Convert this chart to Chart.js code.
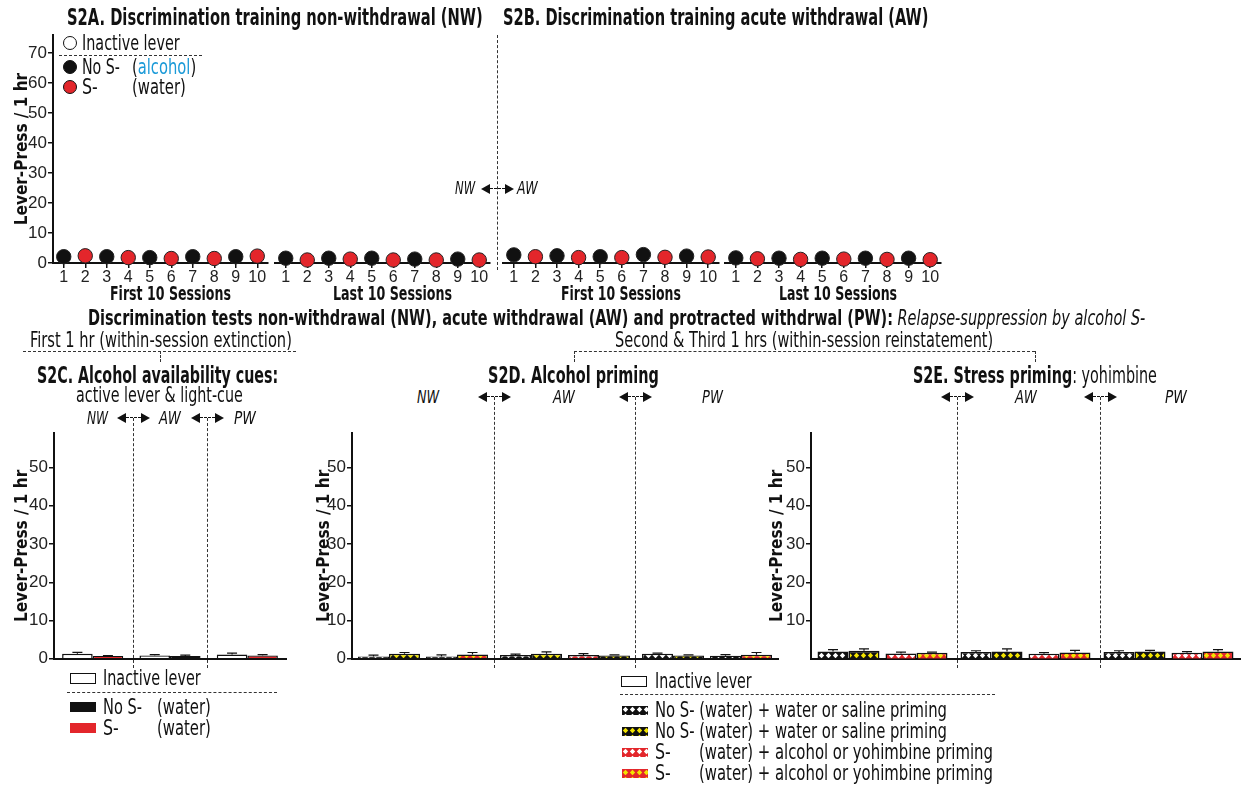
<!DOCTYPE html>
<html>
<head>
<meta charset="utf-8">
<script src="https://cdn.jsdelivr.net/npm/chart.js@4.4.1/dist/chart.umd.min.js"></script>
<style>
  body { margin: 0; background: #fff; width: 1243px; height: 786px; overflow: hidden; position: relative;
         font-family: "Liberation Sans Narrow", "DejaVu Sans Condensed", sans-serif; color: #111; }
  canvas { position: absolute; }
  .t { position: absolute; white-space: nowrap; line-height: 1; transform-origin: left center; transform: translateY(-50%); }
  .b { font-weight: bold; }
  .i { font-style: italic; }
  .hd { position: absolute; height: 0; border-top: 1px dashed #333; }
  .vd { position: absolute; width: 0; border-left: 1px dashed #333; }
  .dot { position: absolute; width: 14px; height: 14px; border-radius: 50%; box-sizing: border-box; border: 1.5px solid #111; }
  .sw { position: absolute; box-sizing: border-box; }
  .arr { position: absolute; width: 33px; height: 10px; }
  .arr .l, .arr .r { position: absolute; top: 0; width: 0; height: 0; border-top: 5px solid transparent; border-bottom: 5px solid transparent; }
  .arr .l { left: 0; border-right: 9px solid #111; }
  .arr .r { right: 0; border-left: 9px solid #111; }
  .arr .d { position: absolute; left: 9px; right: 9px; top: 4px; border-top: 1px dashed #111; }
</style>
</head>
<body>
<script>
// ---- data ----
const sessionLabels = ["1", "2", "3", "4", "5", "6", "7", "8", "9", "10"];
const groupLabels = ["NW", "AW", "PW"];

// S2A non-withdrawal, odd sessions = No S- (alcohol), even = S- (water)
const nwFirstNoS = [2.1, null, 2.1, null, 1.8, null, 2.1, null, 2.1, null];
const nwFirstS   = [null, 2.4, null, 1.8, null, 1.5, null, 1.5, null, 2.3];
const nwLastNoS  = [1.6, null, 1.6, null, 1.6, null, 1.3, null, 1.3, null];
const nwLastS    = [null, 1.0, null, 1.3, null, 1.0, null, 1.0, null, 1.0];
// S2B acute withdrawal
const awFirstNoS = [2.7, null, 2.4, null, 2.1, null, 2.8, null, 2.3, null];
const awFirstS   = [null, 2.1, null, 1.8, null, 1.8, null, 1.9, null, 2.0];
const awLastNoS  = [1.7, null, 1.6, null, 1.6, null, 1.6, null, 1.6, null];
const awLastS    = [null, 1.4, null, 1.2, null, 1.3, null, 1.2, null, 1.1];

// S2C alcohol availability cues (first 1 hr)
const cInactive    = [1.3, 0.85, 1.1];
const cInactiveErr = [0.4, 0.25, 0.4];
const cNoS         = [null, 0.7, null];
const cNoSErr      = [0, 0.25, 0];
const cS           = [0.7, null, 0.85];
const cSErr        = [0.15, 0, 0.25];

// S2D alcohol priming
const dNoSWater    = [0.6, 1.0, 1.3];
const dNoSWaterErr = [0.35, 0.2, 0.2];
const dNoSSaline   = [1.3, 1.3, 0.85];
const dNoSSalineErr= [0.35, 0.5, 0.2];
const dSAlc        = [0.6, 1.0, 0.8];
const dSAlcErr     = [0.45, 0.35, 0.3];
const dSYoh        = [1.1, 0.85, 1.05];
const dSYohErr     = [0.55, 0.2, 0.6];

// S2E stress priming (yohimbine)
const eNoSWater    = [1.9, 1.75, 1.75];
const eNoSWaterErr = [0.5, 0.35, 0.35];
const eNoSSaline   = [2.1, 1.9, 1.9];
const eNoSSalineErr= [0.5, 0.7, 0.3];
const eSAlc        = [1.4, 1.3, 1.6];
const eSAlcErr     = [0.35, 0.3, 0.3];
const eSYoh        = [1.6, 1.65, 1.9];
const eSYohErr     = [0.15, 0.55, 0.5];

const topTicks = [0, 10, 20, 30, 40, 50, 60, 70];
const bottomTicks = [0, 10, 20, 30, 40, 50];

// ---- styling ----
const RED = "#e3262b", BLACK = "#111", YELLOW = "#f2e400", BLUE = "#1b9ad8";
const NARROW = '"Liberation Sans Narrow", "DejaVu Sans Condensed", sans-serif';
const ARIAL = '"Liberation Sans", Arial, sans-serif';
Chart.defaults.font.family = ARIAL;
Chart.defaults.color = "#222";

const errorBars = {
  id: "errorBars",
  afterDatasetsDraw(chart) {
    const ctx = chart.ctx, y = chart.scales.y;
    ctx.save();
    ctx.strokeStyle = BLACK;
    ctx.lineWidth = 1.2;
    chart.data.datasets.forEach((ds, i) => {
      if (!ds.errorBars) return;
      chart.getDatasetMeta(i).data.forEach((el, j) => {
        const v = ds.data[j];
        if (v === null || v === undefined) return;
        const top = y.getPixelForValue(v + ds.errorBars[j]);
        const half = 5;
        ctx.beginPath();
        ctx.moveTo(el.x, el.y); ctx.lineTo(el.x, top);
        ctx.moveTo(el.x - half, top); ctx.lineTo(el.x + half, top);
        ctx.stroke();
      });
    });
    ctx.restore();
  },
};

// GraphPad leaves a small gap between the two bar pairs of each group
const pairGap = {
  id: "pairGap",
  afterDatasetsUpdate(chart, args, opts) {
    const g = opts && opts.gap;
    if (!g) return;
    chart.data.datasets.forEach((ds, i) => {
      const dx = i < 2 ? -g / 2 : g / 2;
      chart.getDatasetMeta(i).data.forEach((el) => { el.x += dx; });
    });
  },
};
Chart.register(errorBars, pairGap);

function makeCanvas(left, top, w, h) {
  const c = document.createElement("canvas");
  c.width = w; c.height = h;
  c.style.left = left + "px"; c.style.top = top + "px";
  c.style.width = w + "px"; c.style.height = h + "px";
  document.body.appendChild(c);
  return c;
}

function tile(base, accent) {
  const c = document.createElement("canvas");
  c.width = 7; c.height = 7;
  const g = c.getContext("2d");
  g.fillStyle = base; g.fillRect(0, 0, 7, 7);
  g.fillStyle = accent;
  g.beginPath(); g.moveTo(3.5, 0.8); g.lineTo(6.2, 3.5); g.lineTo(3.5, 6.2); g.lineTo(0.8, 3.5); g.closePath(); g.fill();
  return c;
}
const tiles = {
  bw: tile(BLACK, "#fff"),
  by: tile(BLACK, YELLOW),
  rw: tile(RED, "#fff"),
  ry: tile(RED, YELLOW),
};

const axisTitleFont = { family: NARROW, size: 17, weight: "bold" };

function yAxis(max, ticks, width, opts = {}) {
  const shown = opts.display !== false;
  return {
    min: 0, max,
    display: shown,
    afterFit: (s) => { if (shown) s.width = width; },
    ticks: {
      stepSize: 10, includeBounds: false, padding: 1,
      font: { family: ARIAL, size: 17 }, color: "#222",
      callback: (v) => (ticks.includes(v) ? String(v) : null),
    },
    grid: { drawOnChartArea: false, drawTicks: true, tickLength: 5, color: BLACK, lineWidth: 1.5 },
    border: { color: BLACK, width: 2 },
    title: { display: true, text: "Lever-Press / 1 hr", font: axisTitleFont, color: BLACK, padding: 0 },
  };
}

// ---- S2A / S2B session charts ----
function sessionChart(left, width, noS, s, showY) {
  const cv = makeCanvas(left, 23, width, 280);
  const pt = (data, color) => ({
    data, showLine: false, clip: false,
    pointRadius: 7.2, pointBackgroundColor: color, pointBorderColor: "#222", pointBorderWidth: 1,
  });
  return new Chart(cv, {
    type: "line",
    data: { labels: sessionLabels, datasets: [pt(noS, BLACK), pt(s, RED)] },
    options: {
      responsive: false, animation: false, events: [],
      layout: { padding: { top: 12, left: 12, right: 12, bottom: 0 } },
      plugins: { legend: { display: false }, tooltip: { enabled: false } },
      scales: {
        x: {
          offset: true,
          afterFit: (sc) => { sc.height = 40; },
          ticks: { font: { family: ARIAL, size: 16 }, color: "#222", padding: 0, maxRotation: 0, autoSkip: false },
          grid: { drawOnChartArea: false, drawTicks: true, tickLength: 5, color: BLACK, lineWidth: 1.5 },
          border: { color: BLACK, width: 2 },
        },
        y: yAxis(76, topTicks, 41, { display: showY }),
      },
    },
  });
}
sessionChart(0, 280, nwFirstNoS, nwFirstS, true);
sessionChart(263, 239, nwLastNoS, nwLastS, false);
sessionChart(491, 240, awFirstNoS, awFirstS, false);
sessionChart(713, 240, awLastNoS, awLastS, false);

// ---- S2C ----
function barBase(ds) {
  return Object.assign({ borderColor: BLACK, borderWidth: 1.5, barPercentage: 1 }, ds);
}
function barOptions(yWidth, ticks, leftPad, rightPad, extra) {
  return {
    responsive: false, animation: false, events: [],
    layout: { padding: { top: 12, left: leftPad, right: rightPad, bottom: 0 } },
    plugins: Object.assign({ legend: { display: false }, tooltip: { enabled: false } }, extra || {}),
    scales: {
      x: {
        afterFit: (sc) => { sc.height = 10; },
        ticks: { display: false },
        grid: { display: false },
        border: { color: BLACK, width: 2 },
      },
      y: yAxis(59, ticks, yWidth),
    },
  };
}

const cvC = makeCanvas(0, 421, 290, 249);
const optC = barOptions(42, bottomTicks, 12, 4);
optC.scales.x.stacked = true;
optC.scales.y.stacked = true;
new Chart(cvC, {
  type: "bar",
  data: {
    labels: groupLabels,
    datasets: [
      barBase({ label: "Inactive lever", data: cInactive, errorBars: cInactiveErr, stack: "inactive", backgroundColor: "#fff", categoryPercentage: 0.79 }),
      barBase({ label: "No S- (water)", data: cNoS, errorBars: cNoSErr, stack: "active", backgroundColor: BLACK, categoryPercentage: 0.79 }),
      barBase({ label: "S- (water)", data: cS, errorBars: cSErr, stack: "active", backgroundColor: RED, categoryPercentage: 0.79 }),
    ],
  },
  options: optC,
});

// ---- S2D / S2E ----
function primingChart(left, width, yWidth, ticks, sets, catPct) {
  const cv = makeCanvas(left, 421, width, 249);
  const ctx = cv.getContext("2d");
  const pat = (k) => ctx.createPattern(tiles[k], "repeat");
  return new Chart(cv, {
    type: "bar",
    data: {
      labels: groupLabels,
      datasets: sets.map((s) => barBase({
        label: s.label, data: s.data, errorBars: s.err, categoryPercentage: catPct,
        backgroundColor: s.fill.map(pat),
      })),
    },
    options: barOptions(yWidth, ticks, 12, left + width >= 1243 ? 3 : 4, { pairGap: { gap: 6 } }),
  });
}

primingChart(302, 480, 38, bottomTicks, [
  { label: "No S- (water) + water", data: dNoSWater, err: dNoSWaterErr, fill: ["bw", "bw", "bw"] },
  { label: "No S- (water) + saline", data: dNoSSaline, err: dNoSSalineErr, fill: ["by", "by", "by"] },
  { label: "S- (water) + alcohol", data: dSAlc, err: dSAlcErr, fill: ["bw", "rw", "bw"] },
  { label: "S- (water) + alcohol", data: dSYoh, err: dSYohErr, fill: ["ry", "by", "ry"] },
], 0.873);

primingChart(755, 488, 44, bottomTicks.filter((v) => v > 0), [
  { label: "No S- (water) + water", data: eNoSWater, err: eNoSWaterErr, fill: ["bw", "bw", "bw"] },
  { label: "No S- (water) + saline", data: eNoSSaline, err: eNoSSalineErr, fill: ["by", "by", "by"] },
  { label: "S- (water) + yohimbine", data: eSAlc, err: eSAlcErr, fill: ["rw", "rw", "rw"] },
  { label: "S- (water) + yohimbine", data: eSYoh, err: eSYohErr, fill: ["ry", "ry", "ry"] },
], 0.867);

// ---- annotations ----
function put(x, y, html, size, opts = {}) {
  const d = document.createElement("div");
  d.className = "t" + (opts.cls ? " " + opts.cls : "");
  d.style.left = x + "px"; d.style.top = y + "px"; d.style.fontSize = size + "px";
  d.innerHTML = html;
  document.body.appendChild(d);
  if (opts.w) d.style.transform = `translateY(-50%) scaleX(${opts.w / d.offsetWidth})`;
  return d;
}
function hline(x, y, w) {
  const d = document.createElement("div"); d.className = "hd";
  d.style.left = x + "px"; d.style.top = y + "px"; d.style.width = w + "px";
  document.body.appendChild(d);
}
function vline(x, y, h) {
  const d = document.createElement("div"); d.className = "vd";
  d.style.left = x + "px"; d.style.top = y + "px"; d.style.height = h + "px";
  document.body.appendChild(d);
}
function arrows(cx, cy) {
  const d = document.createElement("div"); d.className = "arr";
  d.style.left = (cx - 16.5) + "px"; d.style.top = (cy - 5) + "px";
  d.innerHTML = '<i class="l"></i><i class="d"></i><i class="r"></i>';
  document.body.appendChild(d);
}
function dot(cx, cy, fill) {
  const d = document.createElement("div"); d.className = "dot";
  d.style.left = (cx - 7) + "px"; d.style.top = (cy - 7) + "px"; d.style.background = fill;
  document.body.appendChild(d);
}
function swatch(x, y, w, h, fill, border) {
  const d = document.createElement("div"); d.className = "sw";
  d.style.left = x + "px"; d.style.top = y + "px"; d.style.width = w + "px"; d.style.height = h + "px";
  if (fill instanceof HTMLCanvasElement) d.style.background = `url(${fill.toDataURL()})`;
  else d.style.background = fill;
  if (border) d.style.border = border;
  document.body.appendChild(d);
}

// panel titles
put(67, 17, "S2A. Discrimination training non-withdrawal (NW)", 23, { cls: "b", w: 416 });
put(503, 17, "S2B. Discrimination training acute withdrawal (AW)", 23, { cls: "b", w: 425 });

// session axis titles
put(110, 293, "First 10 Sessions", 20, { cls: "b", w: 121 });
put(333, 293, "Last 10 Sessions", 20, { cls: "b", w: 119 });
put(561, 293, "First 10 Sessions", 20, { cls: "b", w: 120 });
put(779, 293, "Last 10 Sessions", 20, { cls: "b", w: 118 });

// S2A legend
dot(70, 43, "#fff");
put(82, 43, "Inactive lever", 22, { w: 98 });
hline(59, 55, 143);
dot(70, 67, BLACK);
put(82, 67, "No S-", 22, { w: 38 });
put(132, 67, `(<span style="color:${BLUE}">alcohol</span>)`, 22, { w: 64 });
dot(70, 87, RED);
put(82, 87, "S-", 22, { w: 16 });
put(132, 87, "(water)", 22, { w: 54 });

// NW <-> AW divider
vline(497, 35, 235);
put(455, 188, "NW", 18, { cls: "i", w: 20 });
arrows(497, 189);
put(517, 188, "AW", 18, { cls: "i", w: 21 });

// tests heading
put(88, 318, "<b>Discrimination tests non-withdrawal (NW), acute withdrawal (AW) and protracted withdrwal (PW):</b> <i>Relapse-suppression by alcohol S-</i>", 22, { w: 1057 });
put(30, 340, "First 1 hr (within-session extinction)", 21, { w: 262 });
hline(23, 351, 273);
vline(160, 351, 11);
put(615, 340, "Second &amp; Third 1 hrs (within-session reinstatement)", 21, { w: 378 });
hline(574, 351, 461);
vline(574, 351, 11);
vline(1035, 351, 11);

put(37, 375, "S2C. Alcohol availability cues:", 23, { cls: "b", w: 241 });
put(76, 395, "active lever &amp; light-cue", 22, { w: 167 });
put(488, 375, "S2D. Alcohol priming", 23, { cls: "b", w: 171 });
put(913, 375, "<b>S2E. Stress priming</b>: yohimbine", 23, { w: 244 });

// S2C condition row
put(87, 418, "NW", 18, { cls: "i", w: 21 });
arrows(133, 418); vline(133, 418, 250);
put(159, 418, "AW", 18, { cls: "i", w: 22 });
arrows(207, 418); vline(207, 418, 250);
put(234, 418, "PW", 18, { cls: "i", w: 22 });

// S2D condition row
put(417, 397, "NW", 18, { cls: "i", w: 22 });
arrows(494, 397); vline(494, 397, 271);
put(553, 397, "AW", 18, { cls: "i", w: 22 });
arrows(635, 397); vline(635, 397, 271);
put(702, 397, "PW", 18, { cls: "i", w: 21 });

// S2E condition row
arrows(957, 397); vline(957, 397, 271);
put(1015, 397, "AW", 18, { cls: "i", w: 22 });
arrows(1100, 397); vline(1100, 397, 271);
put(1165, 397, "PW", 18, { cls: "i", w: 22 });

// S2C legend
swatch(70, 673, 26, 11, "#fff", "1.5px solid #111");
put(103, 678, "Inactive lever", 22, { w: 98 });
hline(67, 692, 210);
swatch(70, 702, 26, 10, BLACK);
put(103, 707, "No S-", 22, { w: 39 });
put(157, 707, "(water)", 22, { w: 54 });
swatch(70, 723, 26, 10, RED);
put(103, 728, "S-", 22, { w: 16 });
put(157, 728, "(water)", 22, { w: 54 });

// S2D / S2E legend
swatch(621, 676, 26, 11, "#fff", "1.5px solid #111");
put(655, 681, "Inactive lever", 22, { w: 97 });
hline(620, 694, 375);
swatch(622, 706, 26, 9, tiles.bw);
put(655, 710, "No S- (water) + water or saline priming", 22, { w: 292 });
swatch(622, 727, 26, 9, tiles.by);
put(655, 731, "No S- (water) + water or saline priming", 22, { w: 292 });
swatch(622, 748, 26, 9, tiles.rw);
put(655, 752, "S-", 22, { w: 16 });
put(699, 752, "(water) + alcohol or yohimbine priming", 22, { w: 294 });
swatch(622, 769, 26, 9, tiles.ry);
put(655, 773, "S-", 22, { w: 16 });
put(699, 773, "(water) + alcohol or yohimbine priming", 22, { w: 294 });
</script>
</body>
</html>
